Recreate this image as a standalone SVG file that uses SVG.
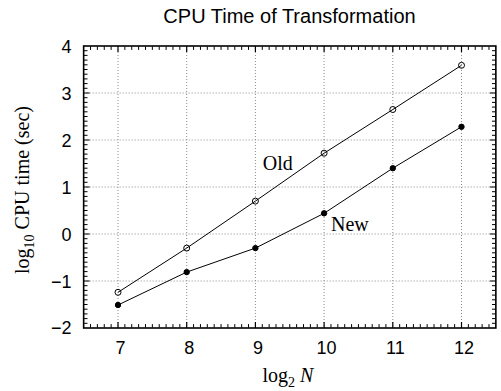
<svg xmlns="http://www.w3.org/2000/svg" width="501" height="391" viewBox="0 0 501 391">
  <style>
    .title { font-family: "Liberation Sans", Arial, sans-serif; font-size: 20px; fill: #000; }
    .tick { font-family: "Liberation Sans", Arial, sans-serif; font-size: 18px; fill: #000; }
    .lab { font-family: "Liberation Serif", "Times New Roman", serif; font-size: 20px; fill: #000; }
    .grid { stroke: #8c8c8c; stroke-width: 1; stroke-dasharray: 1 2; fill: none; }
    .frame { stroke: #000; stroke-width: 1.6; fill: none; }
    .major { stroke: #000; stroke-width: 1.2; fill: none; }
    .minor { stroke: #000; stroke-width: 1; fill: none; }
    .curve { stroke: #000; stroke-width: 1; fill: none; }
    .open { fill: none; stroke: #000; stroke-width: 1; }
    .filled { fill: #000; stroke: #000; stroke-width: 1; }
  </style>

  <!-- title -->
  <text class="title" x="289.5" y="22.7" text-anchor="middle">CPU Time of Transformation</text>

  <!-- grid lines at major ticks -->
  <g id="grid">
    <path class="grid" d="M118,46V328M186.7,46V328M255.4,46V328M324.1,46V328M392.8,46V328M461.5,46V328"/>
    <path class="grid" d="M83.65,93H495.85M83.65,140H495.85M83.65,187H495.85M83.65,234H495.85M83.65,281H495.85"/>
  </g>

  <!-- minor ticks every 0.1 on all four sides -->
  <g id="minor-ticks">
    <!-- left side -->
    <path class="minor" d="M84,50.7h3.5M84,55.4h3.5M84,60.1h3.5M84,64.8h3.5M84,69.5h3.5M84,74.2h3.5M84,78.9h3.5M84,83.6h3.5M84,88.3h3.5
      M84,97.7h3.5M84,102.4h3.5M84,107.1h3.5M84,111.8h3.5M84,116.5h3.5M84,121.2h3.5M84,125.9h3.5M84,130.6h3.5M84,135.3h3.5
      M84,144.7h3.5M84,149.4h3.5M84,154.1h3.5M84,158.8h3.5M84,163.5h3.5M84,168.2h3.5M84,172.9h3.5M84,177.6h3.5M84,182.3h3.5
      M84,191.7h3.5M84,196.4h3.5M84,201.1h3.5M84,205.8h3.5M84,210.5h3.5M84,215.2h3.5M84,219.9h3.5M84,224.6h3.5M84,229.3h3.5
      M84,238.7h3.5M84,243.4h3.5M84,248.1h3.5M84,252.8h3.5M84,257.5h3.5M84,262.2h3.5M84,266.9h3.5M84,271.6h3.5M84,276.3h3.5
      M84,285.7h3.5M84,290.4h3.5M84,295.1h3.5M84,299.8h3.5M84,304.5h3.5M84,309.2h3.5M84,313.9h3.5M84,318.6h3.5M84,323.3h3.5"/>
    <!-- right side -->
    <path class="minor" d="M495.5,50.7h-3.5M495.5,55.4h-3.5M495.5,60.1h-3.5M495.5,64.8h-3.5M495.5,69.5h-3.5M495.5,74.2h-3.5M495.5,78.9h-3.5M495.5,83.6h-3.5M495.5,88.3h-3.5
      M495.5,97.7h-3.5M495.5,102.4h-3.5M495.5,107.1h-3.5M495.5,111.8h-3.5M495.5,116.5h-3.5M495.5,121.2h-3.5M495.5,125.9h-3.5M495.5,130.6h-3.5M495.5,135.3h-3.5
      M495.5,144.7h-3.5M495.5,149.4h-3.5M495.5,154.1h-3.5M495.5,158.8h-3.5M495.5,163.5h-3.5M495.5,168.2h-3.5M495.5,172.9h-3.5M495.5,177.6h-3.5M495.5,182.3h-3.5
      M495.5,191.7h-3.5M495.5,196.4h-3.5M495.5,201.1h-3.5M495.5,205.8h-3.5M495.5,210.5h-3.5M495.5,215.2h-3.5M495.5,219.9h-3.5M495.5,224.6h-3.5M495.5,229.3h-3.5
      M495.5,238.7h-3.5M495.5,243.4h-3.5M495.5,248.1h-3.5M495.5,252.8h-3.5M495.5,257.5h-3.5M495.5,262.2h-3.5M495.5,266.9h-3.5M495.5,271.6h-3.5M495.5,276.3h-3.5
      M495.5,285.7h-3.5M495.5,290.4h-3.5M495.5,295.1h-3.5M495.5,299.8h-3.5M495.5,304.5h-3.5M495.5,309.2h-3.5M495.5,313.9h-3.5M495.5,318.6h-3.5M495.5,323.3h-3.5"/>
    <!-- bottom side -->
    <path class="minor" d="M90.52,327.6v-3.5M97.39,327.6v-3.5M104.26,327.6v-3.5M111.13,327.6v-3.5
      M124.87,327.6v-3.5M131.74,327.6v-3.5M138.61,327.6v-3.5M145.48,327.6v-3.5M152.35,327.6v-3.5M159.22,327.6v-3.5M166.09,327.6v-3.5M172.96,327.6v-3.5M179.83,327.6v-3.5
      M193.57,327.6v-3.5M200.44,327.6v-3.5M207.31,327.6v-3.5M214.18,327.6v-3.5M221.05,327.6v-3.5M227.92,327.6v-3.5M234.79,327.6v-3.5M241.66,327.6v-3.5M248.53,327.6v-3.5
      M262.27,327.6v-3.5M269.14,327.6v-3.5M276.01,327.6v-3.5M282.88,327.6v-3.5M289.75,327.6v-3.5M296.62,327.6v-3.5M303.49,327.6v-3.5M310.36,327.6v-3.5M317.23,327.6v-3.5
      M330.97,327.6v-3.5M337.84,327.6v-3.5M344.71,327.6v-3.5M351.58,327.6v-3.5M358.45,327.6v-3.5M365.32,327.6v-3.5M372.19,327.6v-3.5M379.06,327.6v-3.5M385.93,327.6v-3.5
      M399.67,327.6v-3.5M406.54,327.6v-3.5M413.41,327.6v-3.5M420.28,327.6v-3.5M427.15,327.6v-3.5M434.02,327.6v-3.5M440.89,327.6v-3.5M447.76,327.6v-3.5M454.63,327.6v-3.5
      M468.37,327.6v-3.5M475.24,327.6v-3.5M482.11,327.6v-3.5M488.98,327.6v-3.5"/>
    <!-- top side -->
    <path class="minor" d="M90.52,46.4v3.5M97.39,46.4v3.5M104.26,46.4v3.5M111.13,46.4v3.5
      M124.87,46.4v3.5M131.74,46.4v3.5M138.61,46.4v3.5M145.48,46.4v3.5M152.35,46.4v3.5M159.22,46.4v3.5M166.09,46.4v3.5M172.96,46.4v3.5M179.83,46.4v3.5
      M193.57,46.4v3.5M200.44,46.4v3.5M207.31,46.4v3.5M214.18,46.4v3.5M221.05,46.4v3.5M227.92,46.4v3.5M234.79,46.4v3.5M241.66,46.4v3.5M248.53,46.4v3.5
      M262.27,46.4v3.5M269.14,46.4v3.5M276.01,46.4v3.5M282.88,46.4v3.5M289.75,46.4v3.5M296.62,46.4v3.5M303.49,46.4v3.5M310.36,46.4v3.5M317.23,46.4v3.5
      M330.97,46.4v3.5M337.84,46.4v3.5M344.71,46.4v3.5M351.58,46.4v3.5M358.45,46.4v3.5M365.32,46.4v3.5M372.19,46.4v3.5M379.06,46.4v3.5M385.93,46.4v3.5
      M399.67,46.4v3.5M406.54,46.4v3.5M413.41,46.4v3.5M420.28,46.4v3.5M427.15,46.4v3.5M434.02,46.4v3.5M440.89,46.4v3.5M447.76,46.4v3.5M454.63,46.4v3.5
      M468.37,46.4v3.5M475.24,46.4v3.5M482.11,46.4v3.5M488.98,46.4v3.5"/>
  </g>

  <!-- major ticks -->
  <g id="major-ticks">
    <path class="major" d="M83.65,93h6M83.65,140h6M83.65,187h6M83.65,234h6M83.65,281h6
      M495.85,93h-6M495.85,140h-6M495.85,187h-6M495.85,234h-6M495.85,281h-6
      M118,328v-6M186.7,328v-6M255.4,328v-6M324.1,328v-6M392.8,328v-6M461.5,328v-6
      M118,46v6M186.7,46v6M255.4,46v6M324.1,46v6M392.8,46v6M461.5,46v6"/>
  </g>

  <!-- plot frame -->
  <rect class="frame" x="83.65" y="46" width="412.2" height="282"/>

  <!-- y tick labels -->
  <g id="y-ticks" class="tick" text-anchor="end">
    <text x="71.5" y="52.7">4</text>
    <text x="71.5" y="99.5">3</text>
    <text x="71.5" y="146.5">2</text>
    <text x="71.5" y="193.5">1</text>
    <text x="71.5" y="240.5">0</text>
    <text x="71.5" y="287.5">−1</text>
    <text x="71.5" y="334.3">−2</text>
  </g>

  <!-- x tick labels -->
  <g id="x-ticks" class="tick" text-anchor="middle">
    <text x="120.5" y="354.3">7</text>
    <text x="189.2" y="354.3">8</text>
    <text x="257.9" y="354.3">9</text>
    <text x="326.6" y="354.3">10</text>
    <text x="395.3" y="354.3">11</text>
    <text x="464" y="354.3">12</text>
  </g>

  <!-- axis titles -->
  <text class="lab" x="288" y="381.5" text-anchor="middle">log<tspan font-size="14" dy="5">2</tspan><tspan dy="-5" font-style="italic"> N</tspan></text>
  <text class="lab" transform="translate(29.3,190) rotate(-90)" text-anchor="middle">log<tspan font-size="14" dy="5">10</tspan><tspan dy="-5"> CPU time (sec)</tspan></text>

  <!-- data curves -->
  <g id="connectors">
    <polyline class="curve" points="118,292.3 186.7,248.1 255.4,201.1 324.1,153.2 392.8,109.5 461.5,65.3"/>
    <polyline class="curve" points="118,305 186.7,272.1 255.4,248.1 324.1,213.3 392.8,168.2 461.5,126.8"/>
  </g>

  <g id="old-series">
    <circle class="open" cx="118" cy="292.3" r="3"/>
    <circle class="open" cx="186.7" cy="248.1" r="3"/>
    <circle class="open" cx="255.4" cy="201.1" r="3"/>
    <circle class="open" cx="324.1" cy="153.2" r="3"/>
    <circle class="open" cx="392.8" cy="109.5" r="3"/>
    <circle class="open" cx="461.5" cy="65.3" r="3"/>
    <text class="lab" x="262.7" y="170">Old</text>
  </g>

  <g id="new-series">
    <circle class="filled" cx="118" cy="305" r="2.7"/>
    <circle class="filled" cx="186.7" cy="272.1" r="2.7"/>
    <circle class="filled" cx="255.4" cy="248.1" r="2.7"/>
    <circle class="filled" cx="324.1" cy="213.3" r="2.7"/>
    <circle class="filled" cx="392.8" cy="168.2" r="2.7"/>
    <circle class="filled" cx="461.5" cy="126.8" r="2.7"/>
    <text class="lab" x="331" y="230.7">New</text>
  </g>
</svg>
